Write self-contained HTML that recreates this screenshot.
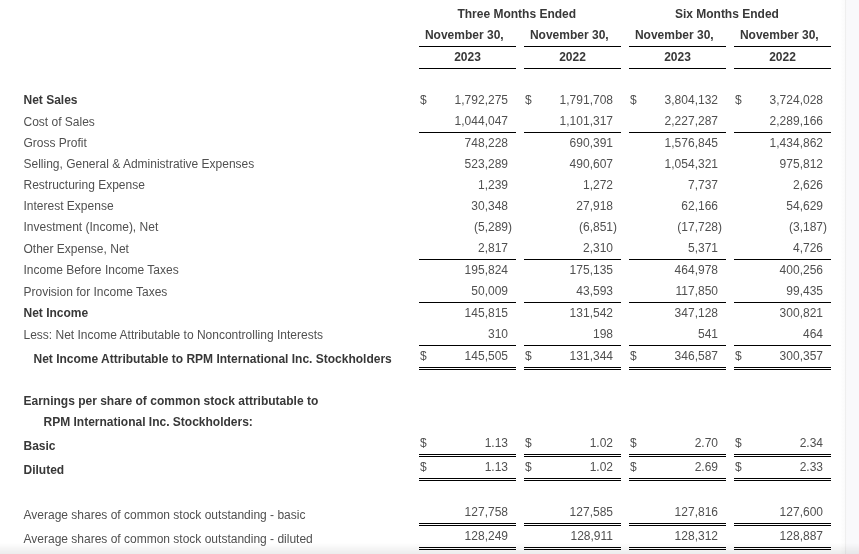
<!DOCTYPE html>
<html><head><meta charset="utf-8"><style>
html,body{margin:0;padding:0;-webkit-font-smoothing:antialiased;}
body{width:859px;height:554px;position:relative;overflow:hidden;background:#fff;font-family:"Liberation Sans",sans-serif;font-size:12px;color:#505050;}
.t{position:absolute;white-space:nowrap;line-height:16px;}
.b{font-weight:bold;color:#383838;}
.c{width:200px;text-align:center;}
.l{position:absolute;background:#000;}
.w{position:absolute;left:0;top:0;width:859px;height:554px;will-change:transform;}
.rs{position:absolute;left:841px;top:0;width:18px;height:554px;background:linear-gradient(90deg,#fefefe 0,#fbfbfb 4px,#efefef 4px,#efefef 5px,#f8f8f8 5px,#f9f9fb 6px);}
.bs{position:absolute;left:0;top:543px;width:859px;height:11px;background:linear-gradient(rgba(0,0,0,0),rgba(0,0,0,0.075));}
</style></head><body>
<div class="rs"></div>
<div class="w">
<div class="t b c" style="left:416.8px;top:5.5px">Three Months Ended</div>
<div class="t b c" style="left:626.9px;top:5.5px">Six Months Ended</div>
<div class="t b c" style="left:364.3px;top:26.5px">November 30,</div>
<div class="t b c" style="left:367.5px;top:48.5px">2023</div>
<div class="l" style="left:419px;top:46px;width:97px;height:1px"></div>
<div class="l" style="left:419px;top:68px;width:97px;height:1px"></div>
<div class="t b c" style="left:469.3px;top:26.5px">November 30,</div>
<div class="t b c" style="left:472.5px;top:48.5px">2022</div>
<div class="l" style="left:524px;top:46px;width:97px;height:1px"></div>
<div class="l" style="left:524px;top:68px;width:97px;height:1px"></div>
<div class="t b c" style="left:574.3px;top:26.5px">November 30,</div>
<div class="t b c" style="left:577.5px;top:48.5px">2023</div>
<div class="l" style="left:629px;top:46px;width:97px;height:1px"></div>
<div class="l" style="left:629px;top:68px;width:97px;height:1px"></div>
<div class="t b c" style="left:679.3px;top:26.5px">November 30,</div>
<div class="t b c" style="left:682.5px;top:48.5px">2022</div>
<div class="l" style="left:734px;top:46px;width:97px;height:1px"></div>
<div class="l" style="left:734px;top:68px;width:97px;height:1px"></div>
<div class="t b" style="left:23.5px;top:91.5px">Net Sales</div>
<div class="t" style="right:351px;top:91.5px">1,792,275</div>
<div class="t" style="left:420px;top:91.5px">$</div>
<div class="t" style="right:246px;top:91.5px">1,791,708</div>
<div class="t" style="left:525px;top:91.5px">$</div>
<div class="t" style="right:141px;top:91.5px">3,804,132</div>
<div class="t" style="left:630px;top:91.5px">$</div>
<div class="t" style="right:36px;top:91.5px">3,724,028</div>
<div class="t" style="left:735px;top:91.5px">$</div>
<div class="t" style="left:23.5px;top:113.5px">Cost of Sales</div>
<div class="t" style="right:351px;top:112.5px">1,044,047</div>
<div class="l" style="left:419px;top:132px;width:97px;height:1px"></div>
<div class="t" style="right:246px;top:112.5px">1,101,317</div>
<div class="l" style="left:524px;top:132px;width:97px;height:1px"></div>
<div class="t" style="right:141px;top:112.5px">2,227,287</div>
<div class="l" style="left:629px;top:132px;width:97px;height:1px"></div>
<div class="t" style="right:36px;top:112.5px">2,289,166</div>
<div class="l" style="left:734px;top:132px;width:97px;height:1px"></div>
<div class="t" style="left:23.5px;top:134.5px">Gross Profit</div>
<div class="t" style="right:351px;top:134.5px">748,228</div>
<div class="t" style="right:246px;top:134.5px">690,391</div>
<div class="t" style="right:141px;top:134.5px">1,576,845</div>
<div class="t" style="right:36px;top:134.5px">1,434,862</div>
<div class="t" style="left:23.5px;top:155.5px">Selling, General &amp; Administrative Expenses</div>
<div class="t" style="right:351px;top:155.5px">523,289</div>
<div class="t" style="right:246px;top:155.5px">490,607</div>
<div class="t" style="right:141px;top:155.5px">1,054,321</div>
<div class="t" style="right:36px;top:155.5px">975,812</div>
<div class="t" style="left:23.5px;top:176.5px">Restructuring Expense</div>
<div class="t" style="right:351px;top:176.5px">1,239</div>
<div class="t" style="right:246px;top:176.5px">1,272</div>
<div class="t" style="right:141px;top:176.5px">7,737</div>
<div class="t" style="right:36px;top:176.5px">2,626</div>
<div class="t" style="left:23.5px;top:197.5px">Interest Expense</div>
<div class="t" style="right:351px;top:197.5px">30,348</div>
<div class="t" style="right:246px;top:197.5px">27,918</div>
<div class="t" style="right:141px;top:197.5px">62,166</div>
<div class="t" style="right:36px;top:197.5px">54,629</div>
<div class="t" style="left:23.5px;top:218.5px">Investment (Income), Net</div>
<div class="t" style="right:347px;top:218.5px">(5,289)</div>
<div class="t" style="right:242px;top:218.5px">(6,851)</div>
<div class="t" style="right:137px;top:218.5px">(17,728)</div>
<div class="t" style="right:32px;top:218.5px">(3,187)</div>
<div class="t" style="left:23.5px;top:240.5px">Other Expense, Net</div>
<div class="t" style="right:351px;top:239.5px">2,817</div>
<div class="l" style="left:419px;top:259px;width:97px;height:1px"></div>
<div class="t" style="right:246px;top:239.5px">2,310</div>
<div class="l" style="left:524px;top:259px;width:97px;height:1px"></div>
<div class="t" style="right:141px;top:239.5px">5,371</div>
<div class="l" style="left:629px;top:259px;width:97px;height:1px"></div>
<div class="t" style="right:36px;top:239.5px">4,726</div>
<div class="l" style="left:734px;top:259px;width:97px;height:1px"></div>
<div class="t" style="left:23.5px;top:261.5px">Income Before Income Taxes</div>
<div class="t" style="right:351px;top:261.5px">195,824</div>
<div class="t" style="right:246px;top:261.5px">175,135</div>
<div class="t" style="right:141px;top:261.5px">464,978</div>
<div class="t" style="right:36px;top:261.5px">400,256</div>
<div class="t" style="left:23.5px;top:283.5px">Provision for Income Taxes</div>
<div class="t" style="right:351px;top:282.5px">50,009</div>
<div class="l" style="left:419px;top:302px;width:97px;height:1px"></div>
<div class="t" style="right:246px;top:282.5px">43,593</div>
<div class="l" style="left:524px;top:302px;width:97px;height:1px"></div>
<div class="t" style="right:141px;top:282.5px">117,850</div>
<div class="l" style="left:629px;top:302px;width:97px;height:1px"></div>
<div class="t" style="right:36px;top:282.5px">99,435</div>
<div class="l" style="left:734px;top:302px;width:97px;height:1px"></div>
<div class="t b" style="left:23.5px;top:304.5px">Net Income</div>
<div class="t" style="right:351px;top:304.5px">145,815</div>
<div class="t" style="right:246px;top:304.5px">131,542</div>
<div class="t" style="right:141px;top:304.5px">347,128</div>
<div class="t" style="right:36px;top:304.5px">300,821</div>
<div class="t" style="left:23.5px;top:326.5px">Less: Net Income Attributable to Noncontrolling Interests</div>
<div class="t" style="right:351px;top:325.5px">310</div>
<div class="l" style="left:419px;top:345px;width:97px;height:1px"></div>
<div class="t" style="right:246px;top:325.5px">198</div>
<div class="l" style="left:524px;top:345px;width:97px;height:1px"></div>
<div class="t" style="right:141px;top:325.5px">541</div>
<div class="l" style="left:629px;top:345px;width:97px;height:1px"></div>
<div class="t" style="right:36px;top:325.5px">464</div>
<div class="l" style="left:734px;top:345px;width:97px;height:1px"></div>
<div class="t b" style="left:33.5px;top:350.5px">Net Income Attributable to RPM International Inc. Stockholders</div>
<div class="t" style="right:351px;top:347.5px">145,505</div>
<div class="t" style="left:420px;top:347.5px">$</div>
<div class="l" style="left:419px;top:367px;width:97px;height:1px"></div>
<div class="l" style="left:419px;top:369px;width:97px;height:1px"></div>
<div class="t" style="right:246px;top:347.5px">131,344</div>
<div class="t" style="left:525px;top:347.5px">$</div>
<div class="l" style="left:524px;top:367px;width:97px;height:1px"></div>
<div class="l" style="left:524px;top:369px;width:97px;height:1px"></div>
<div class="t" style="right:141px;top:347.5px">346,587</div>
<div class="t" style="left:630px;top:347.5px">$</div>
<div class="l" style="left:629px;top:367px;width:97px;height:1px"></div>
<div class="l" style="left:629px;top:369px;width:97px;height:1px"></div>
<div class="t" style="right:36px;top:347.5px">300,357</div>
<div class="t" style="left:735px;top:347.5px">$</div>
<div class="l" style="left:734px;top:367px;width:97px;height:1px"></div>
<div class="l" style="left:734px;top:369px;width:97px;height:1px"></div>
<div class="t b" style="left:23.5px;top:392.5px">Earnings per share of common stock attributable to</div>
<div class="t b" style="left:43.5px;top:413.5px">RPM International Inc. Stockholders:</div>
<div class="t b" style="left:23.5px;top:437.5px">Basic</div>
<div class="t" style="right:351px;top:434.5px">1.13</div>
<div class="t" style="left:420px;top:434.5px">$</div>
<div class="l" style="left:419px;top:454px;width:97px;height:1px"></div>
<div class="l" style="left:419px;top:456px;width:97px;height:1px"></div>
<div class="t" style="right:246px;top:434.5px">1.02</div>
<div class="t" style="left:525px;top:434.5px">$</div>
<div class="l" style="left:524px;top:454px;width:97px;height:1px"></div>
<div class="l" style="left:524px;top:456px;width:97px;height:1px"></div>
<div class="t" style="right:141px;top:434.5px">2.70</div>
<div class="t" style="left:630px;top:434.5px">$</div>
<div class="l" style="left:629px;top:454px;width:97px;height:1px"></div>
<div class="l" style="left:629px;top:456px;width:97px;height:1px"></div>
<div class="t" style="right:36px;top:434.5px">2.34</div>
<div class="t" style="left:735px;top:434.5px">$</div>
<div class="l" style="left:734px;top:454px;width:97px;height:1px"></div>
<div class="l" style="left:734px;top:456px;width:97px;height:1px"></div>
<div class="t b" style="left:23.5px;top:461.5px">Diluted</div>
<div class="t" style="right:351px;top:458.5px">1.13</div>
<div class="t" style="left:420px;top:458.5px">$</div>
<div class="l" style="left:419px;top:478px;width:97px;height:1px"></div>
<div class="l" style="left:419px;top:480px;width:97px;height:1px"></div>
<div class="t" style="right:246px;top:458.5px">1.02</div>
<div class="t" style="left:525px;top:458.5px">$</div>
<div class="l" style="left:524px;top:478px;width:97px;height:1px"></div>
<div class="l" style="left:524px;top:480px;width:97px;height:1px"></div>
<div class="t" style="right:141px;top:458.5px">2.69</div>
<div class="t" style="left:630px;top:458.5px">$</div>
<div class="l" style="left:629px;top:478px;width:97px;height:1px"></div>
<div class="l" style="left:629px;top:480px;width:97px;height:1px"></div>
<div class="t" style="right:36px;top:458.5px">2.33</div>
<div class="t" style="left:735px;top:458.5px">$</div>
<div class="l" style="left:734px;top:478px;width:97px;height:1px"></div>
<div class="l" style="left:734px;top:480px;width:97px;height:1px"></div>
<div class="t" style="left:23.5px;top:506.5px">Average shares of common stock outstanding - basic</div>
<div class="t" style="right:351px;top:503.5px">127,758</div>
<div class="l" style="left:419px;top:523px;width:97px;height:1px"></div>
<div class="l" style="left:419px;top:525px;width:97px;height:1px"></div>
<div class="t" style="right:246px;top:503.5px">127,585</div>
<div class="l" style="left:524px;top:523px;width:97px;height:1px"></div>
<div class="l" style="left:524px;top:525px;width:97px;height:1px"></div>
<div class="t" style="right:141px;top:503.5px">127,816</div>
<div class="l" style="left:629px;top:523px;width:97px;height:1px"></div>
<div class="l" style="left:629px;top:525px;width:97px;height:1px"></div>
<div class="t" style="right:36px;top:503.5px">127,600</div>
<div class="l" style="left:734px;top:523px;width:97px;height:1px"></div>
<div class="l" style="left:734px;top:525px;width:97px;height:1px"></div>
<div class="t" style="left:23.5px;top:530.5px">Average shares of common stock outstanding - diluted</div>
<div class="t" style="right:351px;top:527.5px">128,249</div>
<div class="l" style="left:419px;top:547px;width:97px;height:1px"></div>
<div class="l" style="left:419px;top:549px;width:97px;height:1px"></div>
<div class="t" style="right:246px;top:527.5px">128,911</div>
<div class="l" style="left:524px;top:547px;width:97px;height:1px"></div>
<div class="l" style="left:524px;top:549px;width:97px;height:1px"></div>
<div class="t" style="right:141px;top:527.5px">128,312</div>
<div class="l" style="left:629px;top:547px;width:97px;height:1px"></div>
<div class="l" style="left:629px;top:549px;width:97px;height:1px"></div>
<div class="t" style="right:36px;top:527.5px">128,887</div>
<div class="l" style="left:734px;top:547px;width:97px;height:1px"></div>
<div class="l" style="left:734px;top:549px;width:97px;height:1px"></div>
</div>
<div class="bs"></div>
</body></html>
